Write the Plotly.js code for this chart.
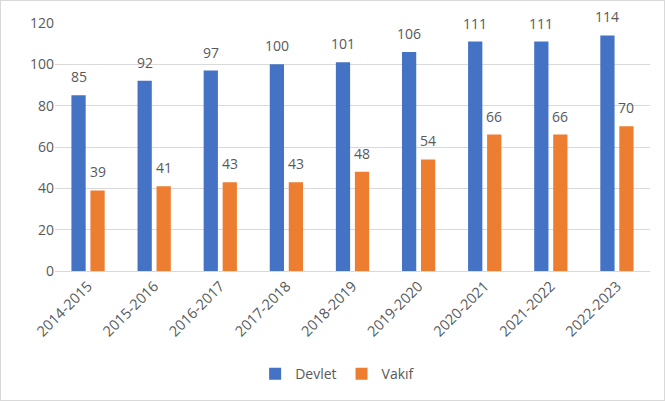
<!DOCTYPE html>
<html><head><meta charset="utf-8">
<script src="https://cdn.plot.ly/plotly-3.0.1.min.js"></script>
<style>html,body{margin:0;padding:0;background:#fff}#c{width:665px;height:401px;box-sizing:border-box;border:1px solid #d9d9d9}</style>
</head><body><div id="c"></div>
<script>
const categories = ["2014-2015","2015-2016","2016-2017","2017-2018","2018-2019","2019-2020","2020-2021","2021-2022","2022-2023"];
const devlet = [85,92,97,100,101,106,111,111,114];
const vakif = [39,41,43,43,48,54,66,66,70];
const font = "Open Sans, Liberation Sans, sans-serif";
const grey = "#595959";
const traces = [
 {type:"bar", name:"Devlet", x:categories, y:devlet, marker:{color:"#4472c4"}},
 {type:"bar", name:"Vakıf", x:categories, y:vakif, marker:{color:"#ed7d31"}}
];
const annotations = [];
categories.forEach((c,i)=>{
  annotations.push({x:c, y:devlet[i], text:String(devlet[i]), showarrow:false, xanchor:"center", yanchor:"bottom", xshift:-9.5, yshift:7, font:{size:14,color:grey,family:font}});
  annotations.push({x:c, y:vakif[i], text:String(vakif[i]), showarrow:false, xanchor:"center", yanchor:"bottom", xshift:9.5, yshift:7, font:{size:14,color:grey,family:font}});
});
const layout = {
 width:663, height:399,
 margin:{l:54,r:14,t:22,b:128},
 paper_bgcolor:"#fff", plot_bgcolor:"#fff",
 font:{family:font,color:grey,size:14},
 bargap:0.425, bargroupgap:0.25,
 annotations:annotations,
 xaxis:{tickangle:-45, showgrid:false, showline:true, linecolor:"#d9d9d9", ticks:"", tickfont:{size:14.5,color:grey}},
 yaxis:{range:[0,120], dtick:20, gridcolor:"#d9d9d9", zeroline:false, showline:false, ticks:"", ticklen:0, tickfont:{size:14,color:grey}, automargin:false},
 legend:{orientation:"h", x:0.475, xanchor:"center", y:-0.41, yanchor:"middle", itemwidth:30, font:{size:14,color:grey}},
 showlegend:true
};
Plotly.newPlot("c", traces, layout, {displayModeBar:false, staticPlot:true});
</script></body></html>
